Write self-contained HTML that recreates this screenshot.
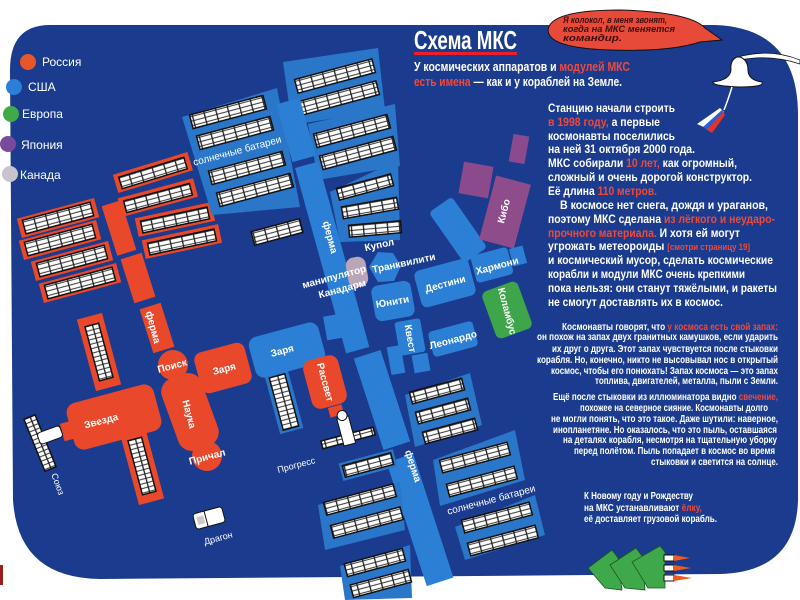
<!DOCTYPE html>
<html><head><meta charset="utf-8"><style>
html,body{margin:0;padding:0;background:#fff;}
svg{display:block;}
.t{font-family:"Liberation Sans",sans-serif;fill:#fff;}
.m{font-family:"Liberation Sans",sans-serif;fill:#fff;font-size:10px;font-weight:bold;}
.r{fill:#ee4a3c;}
.p{fill:url(#pv);stroke:#111;stroke-width:1.5;}
.b{fill:#2b80d6;}
.f{fill:#2a76c8;}
.rd{fill:#e9482a;}
</style></head><body>
<svg width="800" height="600" viewBox="0 0 800 600" xmlns="http://www.w3.org/2000/svg">
<defs>
<pattern id="pv" width="12" height="4.5" patternUnits="userSpaceOnUse">
<rect width="12" height="4.5" fill="#fff"/><rect y="3.4" width="12" height="1" fill="#333"/><rect width="1.3" height="4.5" fill="#222"/>
</pattern>
</defs>
<rect width="800" height="600" fill="#fff"/>
<path d="M50 25 L715 25 Q798 28 798 115 L798 500 Q796 572 720 574 L100 579 Q18 578 13 500 L10 70 Q10 25 50 25 Z" fill="#1a3b8e"/>
<rect x="0" y="565" width="3" height="20" fill="#9a2020"/>

<!-- legend -->
<circle cx="28" cy="62" r="8" fill="#e8572a"/><text class="t" x="42" y="66" font-size="12">Россия</text>
<circle cx="14" cy="87" r="8" fill="#2b7fd6"/><text class="t" x="28" y="91" font-size="12">США</text>
<circle cx="11" cy="114" r="8" fill="#3faa48"/><text class="t" x="22" y="118" font-size="12">Европа</text>
<circle cx="8" cy="144" r="8" fill="#7a4a9a"/><text class="t" x="21" y="149" font-size="12">Япония</text>
<circle cx="10" cy="174" r="8" fill="#c8c4cc"/><text class="t" x="20" y="179" font-size="12">Канада</text>

<!-- Russian arrays -->
<g class="rd">
<g transform="translate(58,218) rotate(-15)"><rect x="-40" y="-10" width="80" height="20"/></g>
<g transform="translate(60,240) rotate(-15)"><rect x="-40" y="-10" width="80" height="20"/></g>
<g transform="translate(72,261) rotate(-15)"><rect x="-40" y="-10" width="80" height="20"/></g>
<g transform="translate(80,283) rotate(-15)"><rect x="-40" y="-10" width="80" height="20"/></g>
<g transform="translate(153,173) rotate(-17)"><rect x="-39" y="-10" width="78" height="19"/></g>
<g transform="translate(158,198) rotate(-15)"><rect x="-39" y="-10" width="78" height="19"/></g>
<g transform="translate(175,220) rotate(-12)"><rect x="-39" y="-10" width="78" height="19"/></g>
<g transform="translate(182,242) rotate(-12)"><rect x="-39" y="-10" width="78" height="19"/></g>
<g transform="translate(119,228) rotate(-17.5)"><rect x="-10" y="-26" width="20" height="52"/></g>
<g transform="translate(138,278) rotate(-17.5)"><rect x="-11" y="-23" width="22" height="46"/></g>
<g transform="translate(157,328) rotate(-17.5)"><rect x="-11" y="-23" width="22" height="46"/></g>
<g transform="translate(99,352) rotate(-15)"><rect x="-13" y="-37" width="26" height="74"/></g>
<g transform="translate(142,466) rotate(-15)"><rect x="-13" y="-37" width="26" height="74"/></g>
</g>
<g transform="translate(58,218) rotate(-15)"><rect class="p" x="-35" y="-7" width="70" height="14"/></g>
<g transform="translate(60,240) rotate(-15)"><rect class="p" x="-35" y="-7" width="70" height="14"/></g>
<g transform="translate(72,261) rotate(-15)"><rect class="p" x="-35" y="-7" width="70" height="14"/></g>
<g transform="translate(80,283) rotate(-15)"><rect class="p" x="-35" y="-7" width="70" height="14"/></g>
<g transform="translate(153,173) rotate(-17)"><rect class="p" x="-34" y="-6" width="68" height="12"/></g>
<g transform="translate(158,198) rotate(-15)"><rect class="p" x="-34" y="-6" width="68" height="12"/></g>
<g transform="translate(175,220) rotate(-12)"><rect class="p" x="-34" y="-6" width="68" height="12"/></g>
<g transform="translate(182,242) rotate(-12)"><rect class="p" x="-34" y="-6" width="68" height="12"/></g>
<g transform="translate(99,352) rotate(-15)"><rect class="p" x="-7" y="-28" width="14" height="56"/></g>
<g transform="translate(142,466) rotate(-15)"><rect class="p" x="-7" y="-28" width="14" height="56"/></g>
<text class="m" transform="translate(150,328) rotate(75)" text-anchor="middle">ферма</text>

<!-- US top arrays -->
<polygon class="f" points="182,117 277,88 300,207 212,215"/>
<g transform="translate(228,112) rotate(-15)"><rect class="p" x="-38" y="-7" width="76" height="14"/></g>
<g transform="translate(235,133) rotate(-15)"><rect class="p" x="-38" y="-7" width="76" height="14"/></g>
<g transform="translate(247,168) rotate(-15)"><rect class="p" x="-38" y="-7" width="76" height="14"/></g>
<g transform="translate(255,190) rotate(-15)"><rect class="p" x="-38" y="-7" width="76" height="14"/></g>
<text class="t" font-size="10" transform="translate(238,154) rotate(-15)" text-anchor="middle">солнечные батареи</text>
<polygon class="f" points="283,62 378,48 385,110 292,125"/>
<polygon class="f" points="308,124 395,104 400,166 318,180"/>
<polygon class="f" points="330,192 398,160 400,240 340,242"/>
<g transform="translate(335,76) rotate(-15)"><rect class="p" x="-40" y="-7" width="80" height="14"/></g>
<g transform="translate(339,98) rotate(-15)"><rect class="p" x="-40" y="-7" width="80" height="14"/></g>
<g transform="translate(352,131) rotate(-15)"><rect class="p" x="-38" y="-7" width="76" height="14"/></g>
<g transform="translate(358,153) rotate(-15)"><rect class="p" x="-38" y="-7" width="76" height="14"/></g>
<g transform="translate(365,187) rotate(-15)"><rect class="p" x="-28" y="-6" width="56" height="12"/></g>
<g transform="translate(370,208) rotate(-10)"><rect class="p" x="-28" y="-6" width="56" height="12"/></g>
<g transform="translate(375,229) rotate(-5)"><rect class="p" x="-26" y="-6" width="52" height="12"/></g>
<g transform="translate(277,232) rotate(-15)"><rect class="p" x="-25" y="-7" width="50" height="14"/></g>

<!-- US truss -->
<g class="b">
<g transform="translate(296,130) rotate(-15.4)"><rect x="-12" y="-30" width="24" height="60"/></g>
<g transform="translate(313,188) rotate(-15.4)"><rect x="-12" y="-24" width="24" height="48"/></g>
<g transform="translate(337,275) rotate(-15.4)"><rect x="-12" y="-78" width="24" height="156"/></g>
<g transform="translate(382,400) rotate(-18)"><rect x="-14" y="-48" width="28" height="96"/></g>
<g transform="translate(420,520) rotate(-18)"><rect x="-14" y="-65" width="28" height="130"/></g>
</g>
<text class="m" transform="translate(327,238) rotate(75)" text-anchor="middle">ферма</text>

<!-- US bottom arrays -->
<polygon class="f" points="405,395 470,373 482,425 415,447"/>
<polygon class="f" points="433,460 515,430 525,480 440,506"/>
<polygon class="f" points="455,527 535,495 545,535 465,560"/>
<polygon class="f" points="318,505 400,482 405,530 325,550"/>
<polygon class="f" points="340,566 410,545 412,598 345,600"/>
<g transform="translate(437,391) rotate(-15)"><rect class="p" x="-27" y="-6" width="54" height="12"/></g>
<g transform="translate(443,411) rotate(-15)"><rect class="p" x="-27" y="-6" width="54" height="12"/></g>
<g transform="translate(450,431) rotate(-15)"><rect class="p" x="-27" y="-6" width="54" height="12"/></g>
<g transform="translate(475,458) rotate(-15)"><rect class="p" x="-35" y="-7" width="70" height="13"/></g>
<g transform="translate(482,482) rotate(-15)"><rect class="p" x="-35" y="-7" width="70" height="13"/></g>
<text class="t" font-size="10" transform="translate(492,503) rotate(-15)" text-anchor="middle">солнечные батареи</text>
<g transform="translate(497,518) rotate(-15)"><rect class="p" x="-35" y="-7" width="70" height="13"/></g>
<g transform="translate(503,541) rotate(-15)"><rect class="p" x="-35" y="-7" width="70" height="13"/></g>
<g transform="translate(360,500) rotate(-15)"><rect class="p" x="-36" y="-7" width="72" height="13"/></g>
<g transform="translate(367,523) rotate(-15)"><rect class="p" x="-36" y="-7" width="72" height="13"/></g>
<g transform="translate(375,563) rotate(-15)"><rect class="p" x="-30" y="-7" width="60" height="13"/></g>
<g transform="translate(381,584) rotate(-15)"><rect class="p" x="-30" y="-7" width="60" height="13"/></g>
<g transform="translate(368,465) rotate(-15)"><rect class="f" x="-28" y="-9" width="56" height="18"/><rect class="p" x="-25" y="-6" width="50" height="12"/></g>
<text class="m" transform="translate(410,467) rotate(72)" text-anchor="middle">ферма</text>

<!-- vertical US panel -->
<g transform="translate(284,402) rotate(-15)"><rect class="f" x="-12" y="-30" width="24" height="60"/><rect class="p" x="-8" y="-27" width="16" height="54"/></g>

<!-- Russian modules -->
<g transform="translate(190,412) rotate(-20)"><rect class="rd" x="-21" y="-38" width="42" height="76" rx="14"/></g>
<circle class="rd" cx="173" cy="365" r="15"/>
<circle class="rd" cx="207" cy="456" r="15"/>
<g transform="translate(223,368) rotate(-15)"><rect class="rd" x="-26" y="-21" width="52" height="42" rx="8"/></g>
<g transform="translate(114,417) rotate(-15)"><rect class="rd" x="-45" y="-24" width="90" height="48" rx="10"/></g>
<g transform="translate(68,431) rotate(-15)"><rect class="rd" x="-6" y="-9" width="12" height="18"/></g>
<text class="m" transform="translate(173,369) rotate(-15)" text-anchor="middle">Поиск</text>
<text class="m" transform="translate(225,372) rotate(-15)" text-anchor="middle">Заря</text>
<text class="m" transform="translate(186,415) rotate(75)" text-anchor="middle">Наука</text>
<text class="m" transform="translate(208,460) rotate(-15)" text-anchor="middle">Причал</text>
<text class="m" transform="translate(102,424) rotate(-15)" text-anchor="middle">Звезда</text>

<!-- Soyuz -->
<g transform="translate(40,443) rotate(-22)"><rect class="p" x="-6" y="-28" width="12" height="56"/></g>
<g transform="translate(50,435) rotate(-20)"><rect x="-12" y="-6" width="24" height="12" rx="3" fill="#fff" stroke="#111"/></g>
<text class="t" font-size="9" transform="translate(55,485) rotate(70)" text-anchor="middle">Союз</text>
<!-- Dragon -->
<g transform="translate(209,518) rotate(-15)"><rect x="-15" y="-8" width="30" height="16" rx="3" fill="#fff" stroke="#111"/><line x1="-3" y1="-8" x2="-3" y2="8" stroke="#111"/><rect x="-12" y="-4" width="7" height="8" fill="#ccc"/></g>
<text class="t" font-size="9" transform="translate(219,541) rotate(-15)" text-anchor="middle">Драгон</text>

<!-- Blue Zarya, Rassvet, Progress -->
<g transform="translate(287,350) rotate(-15)"><rect class="b" x="-36" y="-21" width="72" height="42" rx="9"/></g>
<g transform="translate(334,327) rotate(-10)"><rect class="b" x="-9" y="-12" width="18" height="24"/></g>
<text class="m" transform="translate(283,354) rotate(-15)" text-anchor="middle">Заря</text>
<g transform="translate(325,382) rotate(-15)"><rect class="rd" x="-18" y="-25" width="36" height="50" rx="9"/></g>
<g transform="translate(336,411) rotate(-15)"><rect class="rd" x="-7" y="-5" width="14" height="10"/></g>
<text class="m" transform="translate(322,383) rotate(75)" text-anchor="middle">Рассвет</text>
<g transform="translate(348,438) rotate(-15)"><rect class="p" x="-27" y="-4" width="54" height="8"/></g>
<g transform="translate(346,430) rotate(-15)"><rect x="-6" y="-13" width="12" height="28" fill="#fff" stroke="#111"/><circle cx="0" cy="-15" r="5" fill="#fff" stroke="#111"/></g>
<text class="t" font-size="9" transform="translate(297,468) rotate(-15)" text-anchor="middle">Прогресс</text>

<!-- US modules -->
<g transform="translate(458,230) rotate(-35)"><rect class="b" x="-14" y="-31" width="28" height="62" rx="4"/></g>
<g transform="translate(476,180) rotate(10)"><rect x="-15" y="-16" width="30" height="32" fill="#8a4a8c"/></g>
<g transform="translate(519,149) rotate(10)"><rect x="-8" y="-14" width="16" height="28" fill="#8a4a8c"/></g>
<g transform="translate(505,212) rotate(15)"><rect x="-18" y="-33" width="36" height="66" fill="#8e4c8a"/></g>
<text class="m" transform="translate(507,212) rotate(-75)" text-anchor="middle">Кибо</text>
<g transform="translate(492,265) rotate(-15)"><rect class="b" x="-19" y="-14" width="38" height="28" rx="4"/></g>
<g transform="translate(518,256) rotate(-15)"><rect class="b" x="-7" y="-9" width="14" height="18"/></g>
<text class="m" transform="translate(498,269) rotate(-15)" text-anchor="middle">Хармони</text>
<g transform="translate(445,283) rotate(-15)"><rect class="b" x="-28" y="-19" width="56" height="38" rx="6"/></g>
<text class="m" transform="translate(446,287) rotate(-15)" text-anchor="middle">Дестини</text>
<g transform="translate(507,310) rotate(-20)"><rect x="-19" y="-25" width="38" height="50" rx="6" fill="#3ea54a"/></g>
<text class="m" transform="translate(504,312) rotate(75)" text-anchor="middle">Коламбус</text>
<g transform="translate(393,301) rotate(-10)"><rect class="b" x="-20" y="-18" width="40" height="36" rx="7"/></g>
<text class="m" transform="translate(393,305) rotate(-10)" text-anchor="middle">Юнити</text>
<polygon class="b" points="378,252 393,253 401,266 394,281 378,282 369,267"/>
<text class="m" transform="translate(373,273) rotate(-12)">Транквилити</text>
<text class="m" transform="translate(380,248) rotate(-12)" text-anchor="middle">Купол</text>
<g transform="translate(357,272) rotate(-10)"><rect x="-10" y="-15" width="20" height="30" rx="8" fill="#b9a6b8"/></g>
<text class="m" transform="translate(335,280) rotate(-15)" text-anchor="middle">манипулятор</text>
<text class="m" transform="translate(343,292) rotate(-15)" text-anchor="middle">Канадарм</text>
<g transform="translate(410,337) rotate(-10)"><rect class="b" x="-13" y="-17" width="26" height="34" rx="3"/></g>
<text class="m" transform="translate(407,339) rotate(80)" text-anchor="middle">Квест</text>
<g transform="translate(453,339) rotate(-15)"><rect class="b" x="-23" y="-13" width="46" height="26" rx="4"/></g>
<text class="m" transform="translate(454,343) rotate(-15)" text-anchor="middle">Леонардо</text>
<g transform="translate(396,360) rotate(-10)"><rect class="b" x="-7" y="-14" width="14" height="28"/></g>
<g transform="translate(421,363) rotate(-10)"><rect class="b" x="-8" y="-9" width="16" height="18"/></g>

<!-- Title -->
<text class="t" x="414" y="49" font-size="26" font-weight="bold" textLength="103" lengthAdjust="spacingAndGlyphs">Схема МКС</text>
<rect x="414" y="52" width="103" height="3" fill="#e8202a"/>
<text class="t" x="414" y="71" font-size="13" font-weight="bold" textLength="216" lengthAdjust="spacingAndGlyphs">У космических аппаратов и <tspan class="r">модулей МКС</tspan></text>
<text class="t" x="414" y="86" font-size="13" font-weight="bold" textLength="208" lengthAdjust="spacingAndGlyphs"><tspan class="r">есть имена</tspan> — как и у кораблей на Земле.</text>

<!-- bubble -->
<path d="M548 30 Q550 10 620 10 Q690 12 705 28 L722 40 L700 42 Q670 52 610 50 Q548 48 548 30 Z" fill="#e84a3a" stroke="#111" stroke-width="1"/>
<g font-family="Liberation Sans,sans-serif" font-size="9" font-style="italic" font-weight="bold" fill="#3a1010">
<text x="563" y="23" textLength="104" lengthAdjust="spacingAndGlyphs">Я колокол, в меня звонят,</text>
<text x="563" y="32" textLength="112" lengthAdjust="spacingAndGlyphs">когда на МКС меняется</text>
<text x="563" y="41" textLength="59" lengthAdjust="spacingAndGlyphs">командир.</text>
</g>

<!-- bell -->
<path d="M738 57 Q770 48 800 60 L800 64 Q770 54 740 60 Z" fill="#fff" stroke="#111" stroke-width="0.8"/>
<path d="M737 57 Q730 60 731 70 Q730 80 713 82 Q712 86 740 87 Q765 87 762 82 Q748 80 748 70 Q748 60 740 57 Z" fill="#fff" stroke="#111"/>
<path d="M732 87 Q728 100 724 110" stroke="#fff" stroke-width="1.5" fill="none"/>
<polygon points="697,124 720,108 724,112 710,130" fill="#fff"/>
<polygon points="703,127 722,110 724,113 707,130" fill="#2a60c8"/>
<polygon points="707,130 723,112 725,115 712,133" fill="#e8302a"/>

<!-- paragraph 1 -->
<g class="t" font-size="12" font-weight="bold" style="font-family:'Liberation Sans',sans-serif">
<text x="548" y="112" textLength="127" lengthAdjust="spacingAndGlyphs">Станцию начали строить</text>
<text x="548" y="126" textLength="112" lengthAdjust="spacingAndGlyphs"><tspan class="r">в 1998 году,</tspan> а первые</text>
<text x="548" y="140" textLength="127" lengthAdjust="spacingAndGlyphs">космонавты поселились</text>
<text x="548" y="153" textLength="147" lengthAdjust="spacingAndGlyphs">на ней 31 октября 2000 года.</text>
<text x="548" y="167" textLength="189" lengthAdjust="spacingAndGlyphs">МКС собирали <tspan class="r">10 лет,</tspan> как огромный,</text>
<text x="548" y="181" textLength="204" lengthAdjust="spacingAndGlyphs">сложный и очень дорогой конструктор.</text>
<text x="548" y="195" textLength="109" lengthAdjust="spacingAndGlyphs">Её длина <tspan class="r">110 метров.</tspan></text>
<text x="560" y="209" textLength="208" lengthAdjust="spacingAndGlyphs">В космосе нет снега, дождя и ураганов,</text>
<text x="548" y="223" textLength="227" lengthAdjust="spacingAndGlyphs">поэтому МКС сделана <tspan class="r">из лёгкого и неударо-</tspan></text>
<text x="548" y="237" textLength="192" lengthAdjust="spacingAndGlyphs"><tspan class="r">прочного материала.</tspan> И хотя ей могут</text>
<text x="548" y="250" textLength="202" lengthAdjust="spacingAndGlyphs">угрожать метеороиды <tspan class="r" font-size="9">[смотри страницу 19]</tspan></text>
<text x="548" y="264" textLength="225" lengthAdjust="spacingAndGlyphs">и космический мусор, сделать космические</text>
<text x="548" y="278" textLength="197" lengthAdjust="spacingAndGlyphs">корабли и модули МКС очень крепкими</text>
<text x="548" y="292" textLength="229" lengthAdjust="spacingAndGlyphs">пока нельзя: они станут тяжёлыми, и ракеты</text>
<text x="548" y="306" textLength="175" lengthAdjust="spacingAndGlyphs">не смогут доставлять их в космос.</text>
</g>

<!-- paragraph 2 & 3 -->
<g class="t" font-size="10" font-weight="bold" style="font-family:'Liberation Sans',sans-serif">
<text x="562" y="330" textLength="216" lengthAdjust="spacingAndGlyphs">Космонавты говорят, что <tspan class="r">у космоса есть свой запах:</tspan></text>
<text x="537" y="340" textLength="241" lengthAdjust="spacingAndGlyphs">он похож на запах двух гранитных камушков, если ударить</text>
<text x="552" y="352" textLength="226" lengthAdjust="spacingAndGlyphs">их друг о друга. Этот запах чувствуется после стыковки</text>
<text x="537" y="363" textLength="241" lengthAdjust="spacingAndGlyphs">корабля. Но, конечно, никто не высовывал нос в открытый</text>
<text x="551" y="374" textLength="227" lengthAdjust="spacingAndGlyphs">космос, чтобы его понюхать! Запах космоса — это запах</text>
<text x="595" y="384" textLength="183" lengthAdjust="spacingAndGlyphs">топлива, двигателей, металла, пыли с Земли.</text>
<text x="553" y="400" textLength="225" lengthAdjust="spacingAndGlyphs">Ещё после стыковки из иллюминатора видно <tspan class="r">свечение,</tspan></text>
<text x="580" y="411" textLength="188" lengthAdjust="spacingAndGlyphs">похожее на северное сияние. Космонавты долго</text>
<text x="551" y="422" textLength="227" lengthAdjust="spacingAndGlyphs">не могли понять, что это такое. Даже шутили: наверное,</text>
<text x="553" y="433" textLength="224" lengthAdjust="spacingAndGlyphs">инопланетяне. Но оказалось, что это пыль, оставшаяся</text>
<text x="563" y="443" textLength="214" lengthAdjust="spacingAndGlyphs">на деталях корабля, несмотря на тщательную уборку</text>
<text x="574" y="454" textLength="201" lengthAdjust="spacingAndGlyphs">перед полётом. Пыль попадает в космос во время</text>
<text x="651" y="465" textLength="127" lengthAdjust="spacingAndGlyphs">стыковки и светится на солнце.</text>
<text x="584" y="499" textLength="109" lengthAdjust="spacingAndGlyphs">К Новому году и Рождеству</text>
<text x="584" y="511" textLength="118" lengthAdjust="spacingAndGlyphs">на МКС устанавливают <tspan class="r">ёлку,</tspan></text>
<text x="584" y="522" textLength="133" lengthAdjust="spacingAndGlyphs">её доставляет грузовой корабль.</text>
</g>

<!-- tree & rockets -->
<g fill="#3fa84a" stroke="#1a5a20" stroke-width="0.8">
<polygon points="588,568 612,550 618,558 622,590 605,588"/>
<polygon points="610,565 636,548 642,556 645,590 625,588"/>
<polygon points="632,562 660,546 665,552 665,588 648,588"/>
</g>
<g>
<rect x="664" y="555" width="10" height="6" fill="#fff" stroke="#111"/><polygon points="674,555 690,558 674,561" fill="#ee5a22"/>
<rect x="664" y="565" width="10" height="6" fill="#fff" stroke="#111"/><polygon points="674,565 691,568 674,571" fill="#ee5a22"/>
<rect x="664" y="575" width="10" height="6" fill="#fff" stroke="#111"/><polygon points="674,575 692,578 674,581" fill="#ee5a22"/>
</g>
</svg>
</body></html>
